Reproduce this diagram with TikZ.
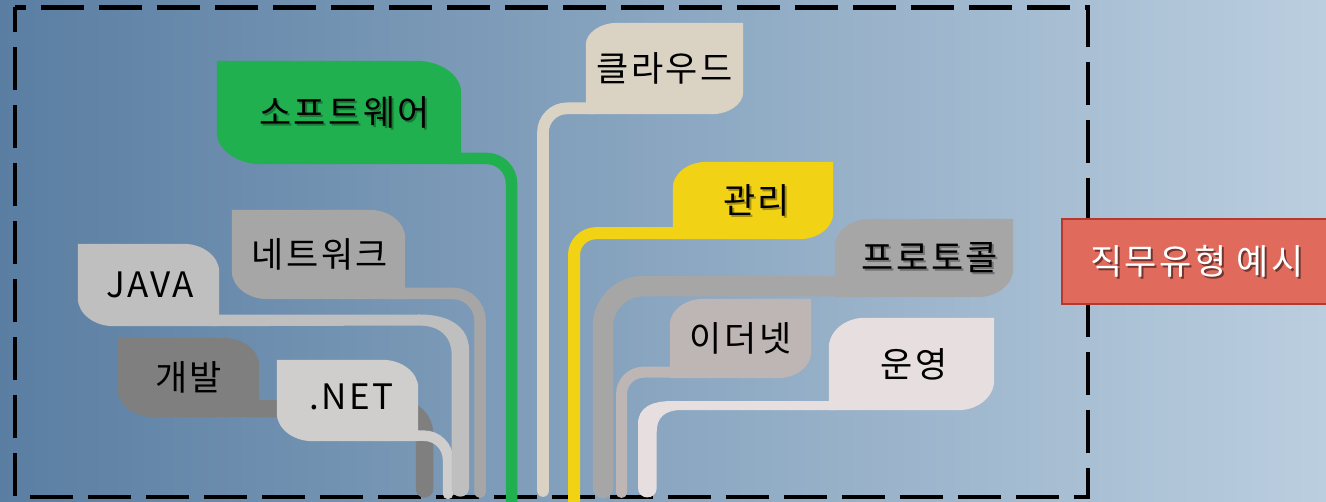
\documentclass[tikz,border=0pt]{standalone}
\usepackage{fontspec}
\setmainfont{Noto Sans CJK KR}
\newfontfamily\kfont[LetterSpace=7]{Noto Sans CJK KR}
\usetikzlibrary{calc}
\definecolor{bgL}{HTML}{5A7EA2}
\definecolor{bgM}{HTML}{7F9FBC}
\definecolor{bgR}{HTML}{BACEDF}
\definecolor{cGreen}{HTML}{21B04F}
\definecolor{cBeige}{HTML}{DAD3C4}
\definecolor{cYellow}{HTML}{F2D214}
\definecolor{cGray}{HTML}{A6A6A6}
\definecolor{cEther}{HTML}{BEB5B5}
\definecolor{cOp}{HTML}{E7DFDF}
\definecolor{cJava}{HTML}{BFBFBF}
\definecolor{cDev}{HTML}{7F7F7F}
\definecolor{cNet}{HTML}{D0CDCD}
\definecolor{cRed}{HTML}{E06B5D}
\definecolor{cRedB}{HTML}{B5392C}
\pgfdeclarelayer{bg}\pgfdeclarelayer{conn}\pgfdeclarelayer{box}
\pgfsetlayers{bg,conn,box,main}
% top-right and bottom-left rounded
\newcommand\leafA[4]{%
 \fill[#4] (#1.north west) -- ($(#1.north east)+(-#2,0)$)
  .. controls ($(#1.north east)+(-0.45*#2,0)$) and ($(#1.north east)+(0,0.45*#3)$) .. ($(#1.north east)+(0,#3)$)
  -- (#1.south east) -- ($(#1.south west)+(#2,0)$)
  .. controls ($(#1.south west)+(0.45*#2,0)$) and ($(#1.south west)+(0,-0.45*#3)$) .. ($(#1.south west)+(0,-#3)$)
  -- cycle;}
% top-left and bottom-right rounded
\newcommand\leafB[4]{%
 \fill[#4] ($(#1.north west)+(#2,0)$) -- (#1.north east) -- ($(#1.south east)+(0,-#3)$)
  .. controls ($(#1.south east)+(0,-0.45*#3)$) and ($(#1.south east)+(-0.45*#2,0)$) .. ($(#1.south east)+(-#2,0)$)
  -- (#1.south west) -- ($(#1.north west)+(0,#3)$)
  .. controls ($(#1.north west)+(0,0.45*#3)$) and ($(#1.north west)+(0.45*#2,0)$) .. ($(#1.north west)+(#2,0)$)
  -- cycle;}
\tikzset{
  leaf/.style={inner sep=0pt, font=\kfont\fontsize{35}{40}\selectfont, text=black},
  shd/.style={leaf, text=black, text opacity=0.3},
  wire/.style={line cap=round},
  frame/.style={line width=4.5pt, dash pattern=on 43pt off 15pt, dash phase=18pt, black},
  exbox/.style={fill=cRed, draw=cRedB, line width=2pt, inner sep=0pt, minimum width=278pt, minimum height=85pt},
}
\begin{document}
\begin{tikzpicture}[x=1pt,y=-1pt]
\useasboundingbox (0,0) rectangle (1326,502);
\begin{pgfonlayer}{bg}
\shade[left color=bgL, middle color=bgM, right color=bgR] (0,0) rectangle (1326,502);
\draw[frame] (15,7.5) rectangle (1088,497);
\end{pgfonlayer}

% shadows
\node[shd, minimum width=244pt, minimum height=103pt] (swS) at (341,114.5) {\kern11pt 소프트웨어};
\node[shd, minimum width=160pt, minimum height=77pt] (mgS) at (755,202.5) {\kern7pt 관리};
\node[shd, minimum width=178pt, minimum height=78pt] (prS) at (926,260) {\kern12pt 프로토콜};

% nodes
\node[leaf, minimum width=244pt, minimum height=103pt] (sw) at (339,112.5) {\kern11pt 소프트웨어};
\node[leaf, minimum width=157pt, minimum height=91pt] (cl) at (664.5,68.5) {클라우드};
\node[leaf, minimum width=160pt, minimum height=77pt] (mg) at (753,200.5) {\kern7pt 관리};
\node[leaf, minimum width=178pt, minimum height=78pt] (pr) at (924,258) {\kern12pt 프로토콜};
\node[leaf, minimum width=141pt, minimum height=79pt] (et) at (740.5,338.5) {이더넷};
\node[leaf, minimum width=165pt, minimum height=92pt] (op) at (911.5,364) {\kern5pt 운영};
\node[leaf, minimum width=173pt, minimum height=89pt] (nw) at (318.5,254.5) {\kern3pt 네트워크};
\node[leaf, minimum width=141pt, minimum height=82pt] (jv) at (148.5,285) {\kern3pt JAVA};
\node[leaf, minimum width=141pt, minimum height=79pt] (dv) at (188.5,377.5) {개발};
\node[leaf, minimum width=141pt, minimum height=81pt] (nt) at (347.5,400.5) {\kern8pt\raisebox{8pt}{.NET}};

% title box
\node[exbox] (ex) at (1200.8,261.5) {};
\node[leaf, text=black, text opacity=0.5] (exS) at (1199,263) {직무유형 예시};
\node[leaf, text=white] (exT) at (1197,261) {직무유형 예시};

% connector end points
\coordinate (swE) at (511.5,515);
\coordinate (clE) at (543,491);
\coordinate (mgE) at (574,515);
\coordinate (prE) at (603,488);
\coordinate (etE) at (621.5,492.5);
\coordinate (nwE) at (480,492);
\coordinate (dvE) at (424.5,489);
\coordinate (ntE) at (448,494);

\begin{pgfonlayer}{box}
\leafA{sw}{45}{32}{cGreen}
\leafB{cl}{32}{22}{cBeige}
\leafB{mg}{34}{26}{cYellow}
\leafB{pr}{36}{28}{cGray}
\leafB{et}{34}{26}{cEther}
\leafB{op}{36}{30}{cOp}
\leafA{nw}{36}{28}{cGray}
\leafA{jv}{36}{28}{cJava}
\leafA{dv}{36}{28}{cDev}
\leafA{nt}{36}{28}{cNet}
\end{pgfonlayer}

\begin{pgfonlayer}{conn}
\draw[wire, cGreen, line width=11.5pt, rounded corners=25pt] ($(sw.south east)+(-8,-5.75)$) -| (swE);
\draw[wire, cBeige, line width=11.7pt, rounded corners=24pt] ($(cl.south west)+(8,-5.85)$) -| (clE);
\draw[wire, cYellow, line width=12pt, rounded corners=22pt] ($(mg.south west)+(8,-6)$) -| (mgE);
\draw[wire, cGray, line width=20.5pt, rounded corners=40pt] ($(pr.south west)+(12,-11)$) -| (prE);
\draw[wire, cEther, line width=11pt, rounded corners=22pt] ($(et.south west)+(8,-6)$) -| (etE);
\draw[wire, cGray, line width=11.5pt, rounded corners=27pt] ($(nw.south east)+(-8,-5.75)$) -| (nwE);
\draw[wire, cDev, line width=17.5pt, rounded corners=25pt] ($(dv.south east)+(-10,-8.5)$) -| (dvE);
\draw[wire, cNet, line width=10.5pt, rounded corners=24pt] ($(nt.south east)+(-8,-5.5)$) -| (ntE);
% tapered connectors
\fill[cOp] ($(op.south west)+(8,-9)$) -- (673,401)
  .. controls (652,401) and (638,407) .. (638,424) -- (638,488)
  .. controls (638,500.5) and (656.7,500.5) .. (656.7,488) -- (656.7,432)
  .. controls (656.7,418) and (664,410) .. (682,410) -- ($(op.south west)+(8,0)$) -- cycle;
\fill[cJava] ($(jv.south east)+(-8,-11.5)$) -- (420,314.5)
  .. controls (448,314.5) and (469,326) .. (469,350) -- (469,488)
  .. controls (469,499.5) and (451.7,499.5) .. (451.7,488) -- (451.7,356)
  .. controls (451.7,336) and (440,325.5) .. (418,325.5) -- ($(jv.south east)+(-8,0)$) -- cycle;
\end{pgfonlayer}
\end{tikzpicture}
\end{document}
